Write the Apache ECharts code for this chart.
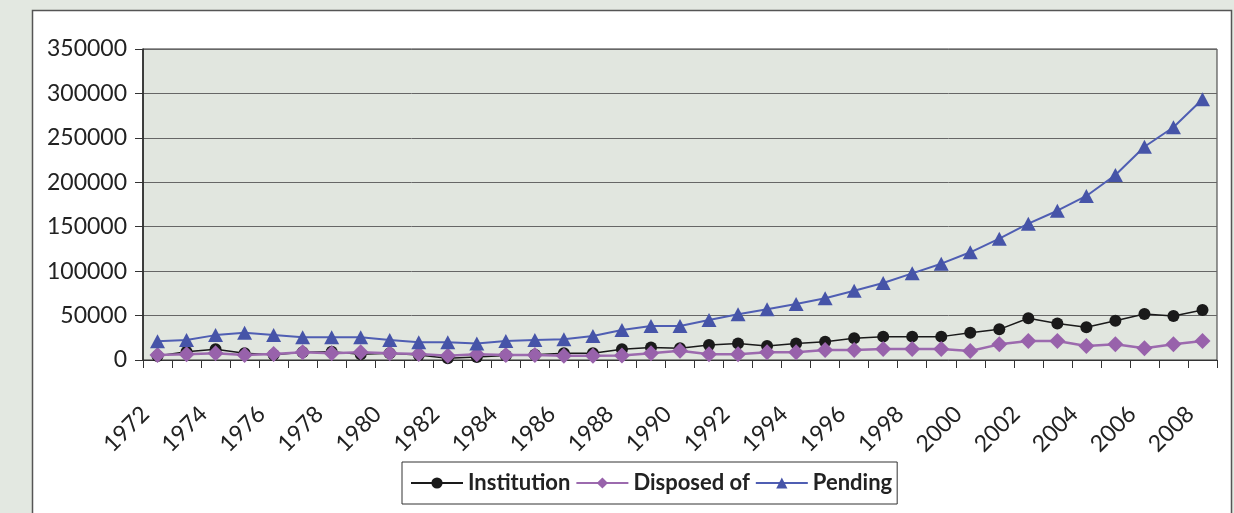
<!DOCTYPE html>
<html>
<head>
<meta charset="utf-8">
<script src="https://cdn.jsdelivr.net/npm/echarts@6/dist/echarts.min.js"></script>
<style>
html,body{margin:0;padding:0;background:#e3e8e1;}
#c{width:1234px;height:513px;}
</style>
</head>
<body>
<div id="c"></div>
<script>
const years = ['1972','1973','1974','1975','1976','1977','1978','1979','1980','1981','1982','1983','1984','1985','1986','1987','1988','1989','1990','1991','1992','1993','1994','1995','1996','1997','1998','1999','2000','2001','2002','2003','2004','2005','2006','2007','2008'];
const institution = [4500,9300,12000,7500,6000,8600,9300,6400,7500,5600,2000,3500,5000,6000,7500,7500,12000,14200,13100,16900,18700,15800,18700,20600,24400,26300,26300,26300,30700,34500,46900,41200,36800,44200,51800,49500,56300];
const disposed = [5600,6400,7500,5600,6700,8600,7500,8600,7500,6700,4900,6400,5600,5600,4900,4900,5000,7500,10500,6400,6400,8600,8600,11250,11250,12400,12400,12400,10100,17600,21400,21400,15800,17600,13100,17600,21400];
const pending = [21000,22500,28000,30700,28000,25500,25500,25500,22500,20000,20000,18500,21400,22500,23300,27000,33800,38300,38300,45000,51400,57000,63000,69400,78000,86600,97500,108400,121200,136500,153400,168000,184600,208200,240000,261900,293400];
const yTicks = [0,50000,100000,150000,200000,250000,300000,350000];

const chart = echarts.init(document.getElementById('c'), null, {renderer:'canvas'});
const txt = '#222';
chart.setOption({
  backgroundColor:'#e3e8e1',
  animation:false,
  graphic:[{type:'rect', z:-10, shape:{x:32.5,y:10.5,width:1199,height:520}, style:{fill:'#ffffff', stroke:'#555', lineWidth:1.5}}],
  grid:{left:143, top:49, right:17, bottom:153, show:true, backgroundColor:'#e1e6df', borderColor:'#333', borderWidth:1},
  legend:{
    left:402, top:462, orient:'horizontal',
    data:['Institution','Disposed of','Pending'],
    itemWidth:52, itemHeight:14, itemGap:5,
    padding:[10,5,10,8],
    borderColor:'#333', borderWidth:1, backgroundColor:'#fff',
    textStyle:{fontFamily:'Lato', fontWeight:'bold', fontSize:22, color:txt}
  },
  xAxis:{
    type:'category', data:years, boundaryGap:true,
    axisLine:{lineStyle:{color:'#333', width:1}},
    axisTick:{show:true, interval:0, length:8, lineStyle:{color:'#333'}},
    axisLabel:{interval:1, rotate:45, margin:38, fontFamily:'Lato', fontSize:23, color:txt,
      formatter:function(v){return v + '\u2002\u2005';}},
    splitLine:{show:false}
  },
  yAxis:{
    type:'value', min:0, max:350000, interval:50000,
    axisLine:{show:true, lineStyle:{color:'#222', width:1.5}},
    axisTick:{show:true, length:8, lineStyle:{color:'#333'}},
    axisLabel:{margin:16, fontFamily:'Lato', fontSize:23, color:txt,
      formatter:function(v){return yTicks.indexOf(v)>=0 ? String(v) : '';}},
    splitLine:{show:true, lineStyle:{color:'#666', width:1}}
  },
  series:[
    {name:'Institution', type:'line', data:institution, symbol:'circle', symbolSize:12,
     itemStyle:{color:'#1a1a1a'}, lineStyle:{color:'#1a1a1a', width:1.5}},
    {name:'Disposed of', type:'line', data:disposed, symbol:'diamond', symbolSize:[16,16],
     itemStyle:{color:'#9862ab'}, lineStyle:{color:'#9c6aae', width:2.5}},
    {name:'Pending', type:'line', data:pending, symbol:'triangle', symbolSize:[15,14],
     itemStyle:{color:'#4654a8'}, lineStyle:{color:'#4f5eb3', width:2}}
  ]
});
</script>
</body>
</html>
